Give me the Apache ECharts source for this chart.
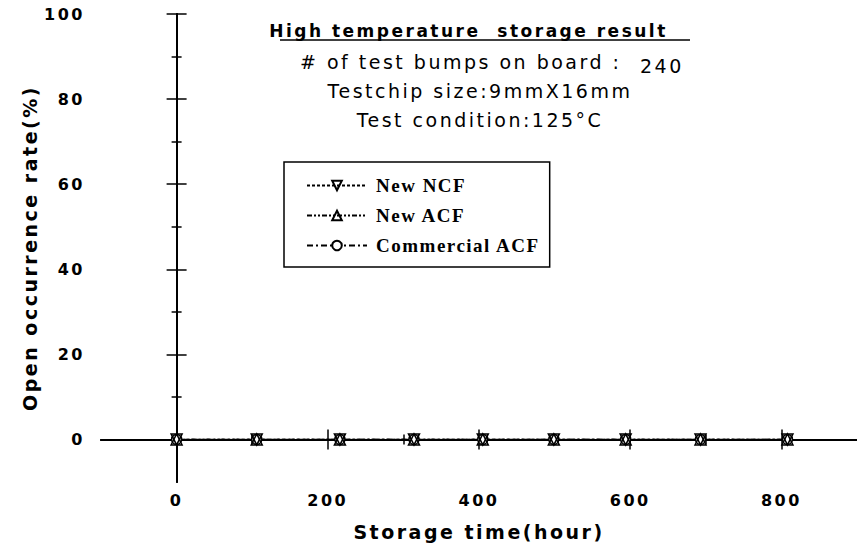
<!DOCTYPE html>
<html>
<head>
<meta charset="utf-8">
<script src="https://cdn.jsdelivr.net/npm/echarts@6/dist/echarts.min.js"></script>
<style>
  html, body { margin: 0; padding: 0; background: #fff; }
  #chart { width: 857px; height: 551px; }
  /* the scanned plot uses wide letter spacing */
  #chart text[style*="DejaVu Sans"] { letter-spacing: 2.5px; }
  #chart text[style*="Liberation Serif"] { letter-spacing: 1.5px; }
</style>
</head>
<body>
<div id="chart"></div>
<script>
const hours = [0, 106, 216, 314, 405, 499, 594, 693, 808]
const newNCF = [0, 0, 0, 0, 0, 0, 0, 0, 0]
const newACF = [0, 0, 0, 0, 0, 0, 0, 0, 0]
const commercialACF = [0, 0, 0, 0, 0, 0, 0, 0, 0]
const xLabels = [0, 200, 400, 600, 800]
const xMinor = [100, 300, 500, 700]
const yLabels = [0, 20, 40, 60, 80, 100]
const yMinor = [10, 30, 50, 70, 90]

const pairs = (ys) => hours.map((h, i) => [h, ys[i]])

const tickFont = { fontFamily: 'DejaVu Sans', fontWeight: 'bold', fontSize: 16, color: '#000' }
const axisLine = { show: true, lineStyle: { color: '#000', width: 2 } }

function xAxis(position, ticks, len, labels) {
  return {
    type: 'value', position: position, min: -100, max: 900,
    axisLine: labels === undefined && len < 8 ? { show: false } : axisLine,
    splitLine: { show: false },
    axisTick: { show: true, inside: true, length: len, customValues: ticks, lineStyle: { color: '#000', width: 1.5 } },
    axisLabel: labels ? Object.assign({ show: true, margin: 10, customValues: labels }, tickFont) : { show: false }
  }
}
function yAxis(position, ticks, len, labels) {
  return {
    type: 'value', position: position, min: -10, max: 100,
    axisLine: labels === undefined && len < 8 ? { show: false } : axisLine,
    splitLine: { show: false },
    axisTick: { show: true, inside: true, length: len, customValues: ticks, lineStyle: { color: '#000', width: 1.5 } },
    axisLabel: labels ? Object.assign({ show: true, margin: 16, customValues: labels }, tickFont) : { show: false }
  }
}

const chart = echarts.init(document.getElementById('chart'), null, { renderer: 'svg' })

const xs = [
  xAxis('bottom', xLabels, 10, xLabels),
  xAxis('bottom', xMinor, 5),
  xAxis('top', xLabels, 10, null),
  xAxis('top', xMinor, 5)
]
xs[0].name = 'Storage time(hour)'
xs[0].nameLocation = 'middle'
xs[0].nameGap = 40
xs[0].nameTextStyle = { fontFamily: 'DejaVu Sans', fontWeight: 'bold', fontSize: 19, color: '#000' }

const ys = [
  yAxis('left', yLabels, 10, yLabels),
  yAxis('left', yMinor, 5),
  yAxis('right', yLabels, 10, null),
  yAxis('right', yMinor, 5)
]
ys[0].name = 'Open occurrence rate(%)'
ys[0].nameLocation = 'middle'
ys[0].nameGap = 62
ys[0].nameTextStyle = { fontFamily: 'DejaVu Sans', fontWeight: 'bold', fontSize: 19, color: '#000' }

function lineSeries(name, data, symbol, rotate, dash) {
  return {
    name: name, type: 'line', data: pairs(data),
    xAxisIndex: 0, yAxisIndex: 0,
    symbol: symbol, symbolSize: symbol === 'circle' ? 10 : 11, symbolRotate: rotate,
    lineStyle: { color: '#000', width: 1.2, type: dash },
    itemStyle: { color: symbol === 'circle' ? '#fff' : 'rgba(0,0,0,0)', borderColor: '#000', borderWidth: 1.5 },
    emphasis: { disabled: true }
  }
}

chart.setOption({
  animation: false,
  backgroundColor: '#fff',
  grid: { left: 101, right: -4, top: 14, bottom: 69, containLabel: false },
  legend: {
    data: ['New NCF', 'New ACF', 'Commercial ACF'],
    orient: 'vertical', left: 284, top: 162,
    padding: [14, 30, 12, 22],
    itemWidth: 60, itemHeight: 12, itemGap: 11,
    borderColor: '#000', borderWidth: 1.5,
    textStyle: { fontFamily: 'Liberation Serif', fontWeight: 'bold', fontSize: 19, color: '#000', padding: [0, 0, 0, 4] }
  },
  xAxis: xs,
  yAxis: ys,
  graphic: [
    { type: 'text', left: 'center', top: 22, style: { text: 'High temperature  storage result', font: 'bold 17px "DejaVu Sans"', fill: '#000' } },
    { type: 'line', shape: { x1: 280, y1: 40, x2: 690, y2: 40 }, style: { stroke: '#000', lineWidth: 1.5 } },
    { type: 'text', x: 300, y: 52, style: { text: '# of test bumps on board :', font: '19px "DejaVu Sans"', fill: '#000' } },
    { type: 'text', x: 640, y: 56, style: { text: '240', font: '19px "DejaVu Sans"', fill: '#000' } },
    { type: 'text', x: 480, y: 81, style: { text: 'Testchip size:9mmX16mm', font: '19px "DejaVu Sans"', fill: '#000', align: 'center' } },
    { type: 'text', x: 480, y: 110, style: { text: 'Test condition:125°C', font: '19px "DejaVu Sans"', fill: '#000', align: 'center' } }
  ],
  series: [
    lineSeries('Commercial ACF', commercialACF, 'circle', 0, [6, 3, 2, 3]),
    lineSeries('New ACF', newACF, 'triangle', 0, [5, 2, 2, 2, 2, 2]),
    lineSeries('New NCF', newNCF, 'triangle', 180, [3, 2])
  ]
})
</script>
</body>
</html>
